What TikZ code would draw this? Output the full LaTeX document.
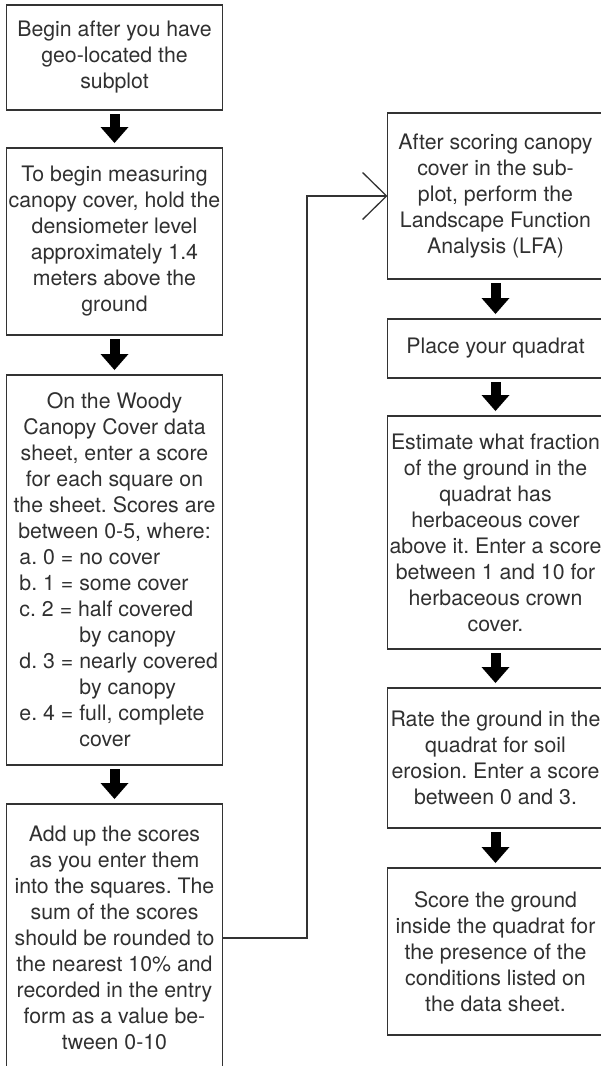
\documentclass[tikz,border=0pt]{standalone}
\usepackage{fontspec}
\setmainfont{TeX Gyre Heros}
\usetikzlibrary{arrows.meta,positioning}
\definecolor{ink}{HTML}{303030}
\definecolor{edge}{HTML}{333333}
\frenchspacing
\newcommand{\wideline}[1]{\makebox[0pt]{#1}}
\newcommand{\listline}[1]{\makebox[190pt][l]{#1}}
\newcommand{\listcont}[1]{\makebox[190pt][l]{\hspace{60pt}#1}}
\tikzset{
  stepbox/.style={draw=edge,line width=1.6pt,inner sep=0pt,outer sep=0pt,minimum width=216pt,align=center,text=ink,font=\fontsize{21.3}{26}\selectfont},
  fatarrow/.style={-{Triangle[width=28pt,length=16pt,line width=0pt]},line width=10pt,shorten <=4pt,shorten >=5pt},
  loopback/.style={-{Straight Barb[length=24pt,width=47pt]},line width=1.3pt,draw=edge}
}

\begin{document}
\begin{tikzpicture}[x=1pt,y=-1pt]
    \useasboundingbox (0,0) rectangle (601,1066);
    \node[stepbox,minimum height=105pt] (l1) at (114.5,57.5) {Begin after you have\\geo-located the\\subplot};
    \node[stepbox,minimum height=187pt,below=38pt of l1] (l2) {To begin measuring\\\wideline{canopy cover, hold the}\\densiometer level\\approximately 1.4\\meters above the\\ground};
    \node[stepbox,minimum height=390pt,below=40pt of l2] (l3) {On the Woody\\Canopy Cover data\\sheet, enter a score\\for each square on\\\wideline{the sheet. Scores are}\\between 0-5, where:\\
      \listline{a. 0 = no cover}\\\listline{b. 1 = some cover}\\\listline{c. 2 = half covered}\\\listcont{by canopy}\\
      \listline{d. 3 = nearly covered}\\\listcont{by canopy}\\\listline{e. 4 = full, complete}\\\listcont{cover}};
    \node[stepbox,minimum height=268pt,below=39pt of l3] (l4) {Add up the scores\\as you enter them\\\wideline{into the squares. The}\\sum of the scores\\\wideline{should be rounded to}\\the nearest 10\% and\\recorded in the entry\\form as a value be-\\tween 0-10};

    \node[stepbox,minimum height=166pt] (r1) at (495.5,196) {After scoring canopy\\cover in the sub-\\plot, perform the\\Landscape Function\\Analysis (LFA)};
    \node[stepbox,minimum height=59pt,below=40pt of r1] (r2) {Place your quadrat};
    \node[stepbox,minimum height=233pt,below=38pt of r2] (r3) {\wideline{Estimate what fraction}\\of the ground in the\\quadrat has\\herbaceous cover\\\wideline{above it. Enter a score}\\\wideline{between 1 and 10 for}\\herbaceous crown\\cover.};
    \node[stepbox,minimum height=140pt,below=39pt of r3] (r4) {\wideline{Rate the ground in the}\\quadrat for soil\\\wideline{erosion. Enter a score}\\between 0 and 3.};
    \node[stepbox,minimum height=167pt,below=40pt of r4] (r5) {Score the ground\\\wideline{inside the quadrat for}\\the presence of the\\conditions listed on\\the data sheet.};

    \draw[fatarrow] (l1) -- (l2);
    \draw[fatarrow] (l2) -- (l3);
    \draw[fatarrow] (l3) -- (l4);
    \draw[fatarrow] (r1) -- (r2);
    \draw[fatarrow] (r2) -- (r3);
    \draw[fatarrow] (r3) -- (r4);
    \draw[fatarrow] (r4) -- (r5);
    \coordinate (bend) at (307,196);
    \draw[loopback] (l4.east) -| (bend) |- (r1.west);
\end{tikzpicture}
\end{document}
